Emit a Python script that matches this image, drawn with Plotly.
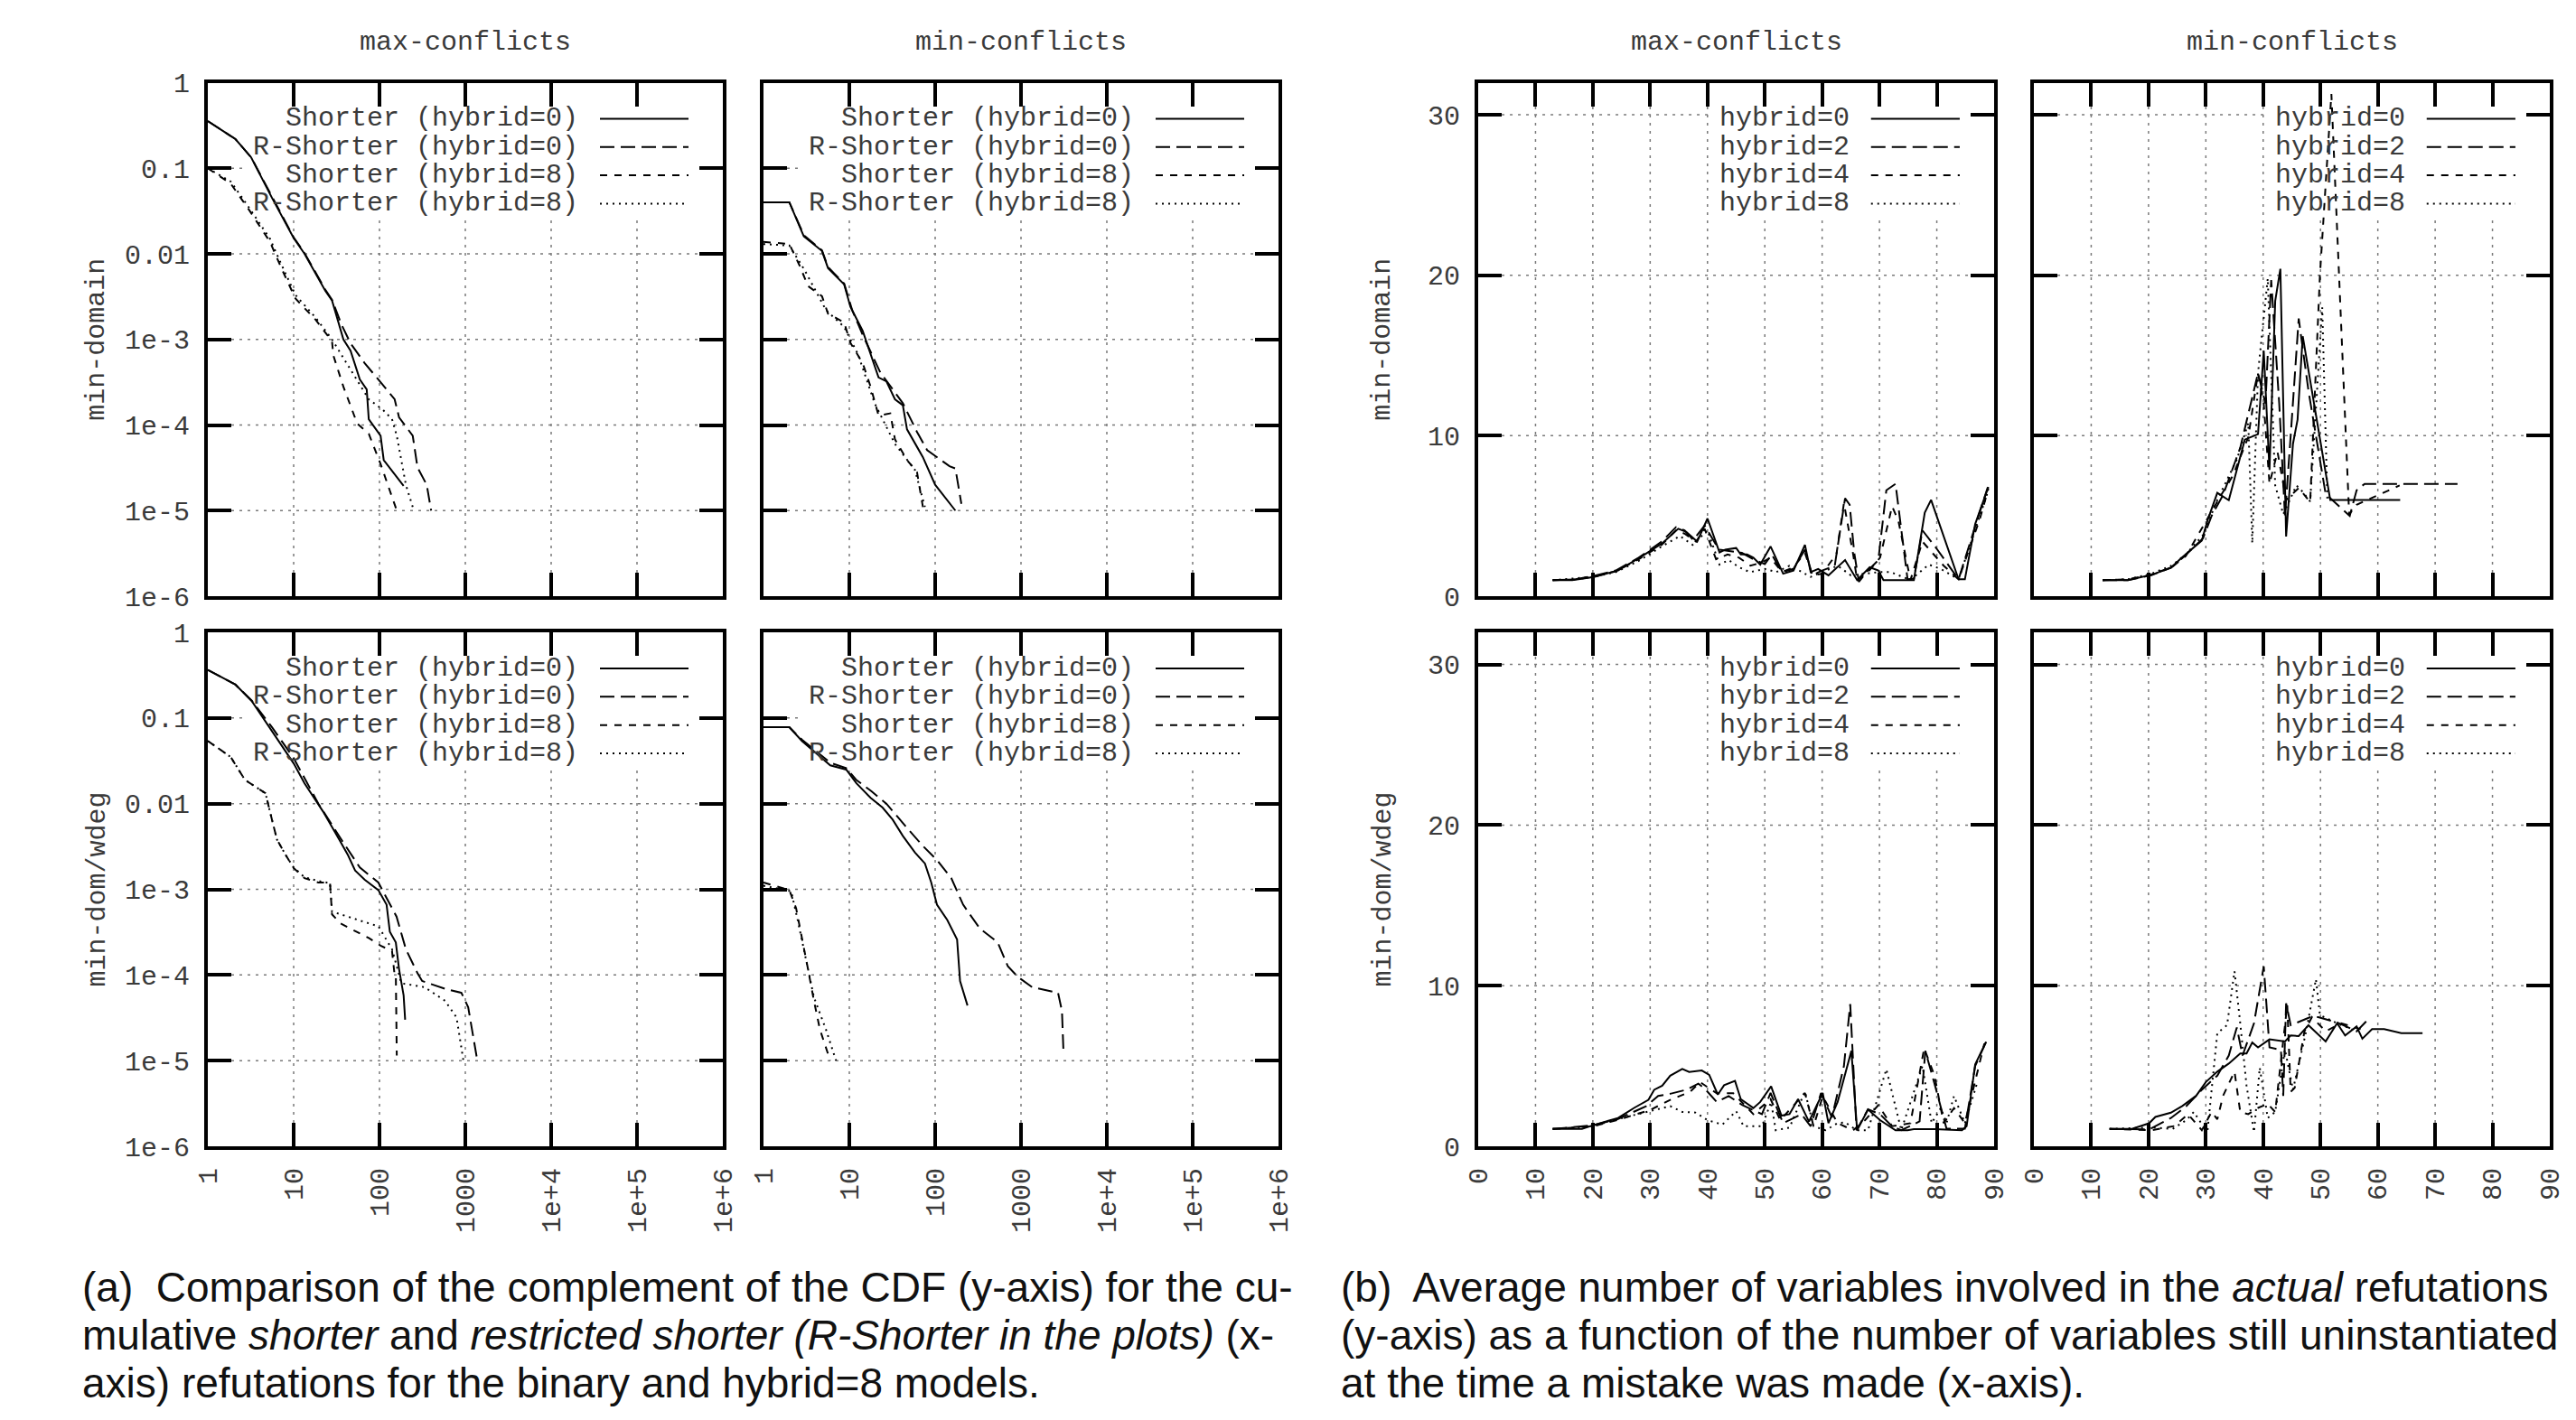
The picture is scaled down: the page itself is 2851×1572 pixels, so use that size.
import plotly.graph_objects as go

# ------------------------------------------------------------------ ticks / labels
LOG_TICKS = [1, 10, 100, 1000, 1e4, 1e5, 1e6]
LOG_TICK_TEXT = ["1", "10", "100", "1000", "1e+4", "1e+5", "1e+6"]
PROB_TICKS = [1e-6, 1e-5, 1e-4, 1e-3, 0.01, 0.1, 1]
PROB_TICK_TEXT = ["1e-6", "1e-5", "1e-4", "1e-3", "0.01", "0.1", "1"]
VAR_TICKS = [0, 10, 20, 30, 40, 50, 60, 70, 80, 90]
SIZE_TICKS = [0, 10, 20, 30]
COL_TITLES = ["max-conflicts", "min-conflicts"]
ROW_TITLES = ["min-domain", "min-dom/wdeg"]
CDF_LABELS = ["Shorter (hybrid=0)", "R-Shorter (hybrid=0)", "Shorter (hybrid=8)", "R-Shorter (hybrid=8)"]
HYB_LABELS = ["hybrid=0", "hybrid=2", "hybrid=4", "hybrid=8"]
CAPTION_A = ["(a)\u00a0 Comparison of the complement of the CDF (y-axis) for the cu-",
             "mulative <i>shorter</i> and <i>restricted shorter (R-Shorter in the plots)</i> (x-",
             "axis) refutations for the binary and hybrid=8 models."]
CAPTION_B = ["(b)\u00a0 Average number of variables involved in the <i>actual</i> refutations",
             "(y-axis) as a function of the number of variables still uninstantiated",
             "at the time a mistake was made (x-axis)."]

# ------------------------------------------------------------------ (a) CDF data
# min-domain / max-conflicts
MDMAX_S0_X = [1, 2.1, 3.2, 5.6, 10, 13.4, 23.4, 28, 38, 46, 59, 71, 75, 103, 112, 191]
MDMAX_S0_Y = [0.356, 0.219, 0.134, 0.045, 0.0153, 0.010, 0.0037, 0.00285, 0.001, 7.4e-4, 3.4e-4, 2.6e-4, 1.17e-4, 7.5e-5, 3.9e-5, 1.95e-5]
MDMAX_R0_X = [1, 2.1, 3.2, 5.6, 10, 13.4, 23.4, 28, 36, 46, 67, 97, 150, 169, 244, 277, 355, 400]
MDMAX_R0_Y = [0.356, 0.219, 0.134, 0.046, 0.0156, 0.0102, 0.0038, 0.0029, 0.0015, 9.0e-4, 5.3e-4, 3.4e-4, 2.0e-4, 1.23e-4, 7.5e-5, 3.2e-5, 2.0e-5, 1.0e-5]
MDMAX_S8_X = [1, 1.85, 3.0, 5.3, 7.2, 10.5, 18, 28, 29, 38, 55, 75, 103, 159]
MDMAX_S8_Y = [0.1, 0.066, 0.033, 0.0138, 0.0068, 0.003, 0.0017, 9.5e-4, 6.5e-4, 2.8e-4, 1.04e-4, 7.9e-5, 3.5e-5, 1.0e-5]
MDMAX_R8_X = [1, 1.85, 3.0, 5.3, 7.2, 10.5, 18, 28, 45, 75, 110, 140, 159, 203, 244]
MDMAX_R8_Y = [0.1, 0.07, 0.035, 0.015, 0.0075, 0.0033, 0.0018, 0.001, 4.6e-4, 2.0e-4, 1.5e-4, 1.17e-4, 7.5e-5, 2.0e-5, 1.1e-5]

# min-domain / min-conflicts
MDMIN_S0_X = [1, 2.0, 2.95, 4.8, 5.65, 8.7, 10.3, 14.3, 21.9, 27, 34, 42, 47, 72, 100, 172]
MDMIN_S0_Y = [0.04, 0.04, 0.016, 0.0108, 0.0068, 0.0044, 0.0024, 0.00126, 3.6e-4, 3.24e-4, 2.0e-4, 1.7e-4, 8.9e-5, 4.2e-5, 2.0e-5, 1.0e-5]
MDMIN_R0_X = [1, 2.0, 2.95, 4.8, 5.65, 8.7, 10.8, 14.3, 23, 42, 61.5, 80.5, 147, 172, 202]
MDMIN_R0_Y = [0.04, 0.04, 0.0165, 0.011, 0.0070, 0.0045, 0.0022, 0.00113, 4.1e-4, 1.8e-4, 8.3e-5, 5.1e-5, 3.3e-5, 3.1e-5, 1.2e-5]
MDMIN_S8_X = [1, 2.0, 2.65, 3.3, 4.8, 5.65, 8.7, 10.3, 14.3, 17.7, 21.9, 30, 34, 47, 61.5, 72]
MDMIN_S8_Y = [0.0138, 0.013, 0.0072, 0.0042, 0.0032, 0.002, 0.00158, 9.1e-4, 5.3e-4, 2.8e-4, 1.29e-4, 1.37e-4, 6.8e-5, 3.9e-5, 2.8e-5, 1.1e-5]
MDMIN_R8_X = [1, 2.0, 3.0, 5.35, 8.7, 12.7, 19.7, 34, 58, 76]
MDMIN_R8_Y = [0.013, 0.0125, 0.0065, 0.0022, 0.0014, 6.6e-4, 1.8e-4, 6.0e-5, 3.0e-5, 1.1e-5]

# min-dom/wdeg / max-conflicts
MWMAX_S0_X = [1, 2.1, 3.24, 5.6, 10, 13.4, 22, 34, 43, 52, 67, 97, 121, 132, 155, 169, 191, 199]
MWMAX_S0_Y = [0.365, 0.245, 0.158, 0.07, 0.0295, 0.0172, 0.0081, 0.0038, 0.0025, 0.00166, 0.0013, 9.8e-4, 6.6e-4, 3.2e-4, 2.4e-4, 1.17e-4, 5.8e-5, 3.0e-5]
MWMAX_R0_X = [1, 2.1, 3.24, 5.6, 10, 19.4, 36, 59, 97, 158, 203, 277, 314, 580, 900, 1080, 1380]
MWMAX_R0_Y = [0.365, 0.245, 0.16, 0.078, 0.034, 0.01, 0.0038, 0.0018, 0.0012, 4.8e-4, 2.0e-4, 1.05e-4, 8.5e-5, 6.9e-5, 6.2e-5, 4.2e-5, 1.0e-5]
MWMAX_S8_X = [1, 1.85, 2.7, 3.45, 4.7, 5.65, 6.4, 8.2, 10, 13.4, 19.4, 26.5, 28, 35, 75, 103, 140, 150, 155, 159]
MWMAX_S8_Y = [0.054, 0.035, 0.019, 0.0163, 0.0132, 0.0062, 0.0038, 0.00245, 0.00177, 0.00135, 0.0012, 0.0012, 5.1e-4, 4.0e-4, 2.7e-4, 2.2e-4, 1.9e-4, 1.0e-4, 1.0e-4, 1.15e-5]
MWMAX_R8_X = [1, 1.85, 2.7, 3.45, 4.7, 5.65, 6.4, 8.2, 10, 13.4, 19.4, 26.5, 28, 60, 97, 140, 180, 335, 580, 790, 950]
MWMAX_R8_Y = [0.054, 0.035, 0.019, 0.0163, 0.0132, 0.0062, 0.0038, 0.00245, 0.0018, 0.00138, 0.00125, 0.00118, 5.5e-4, 4.3e-4, 3.7e-4, 2.0e-4, 8.0e-5, 7.2e-5, 5.0e-5, 3.2e-5, 1.0e-5]

# min-dom/wdeg / min-conflicts
MWMIN_S0_X = [1, 2.0, 2.8, 4, 6, 9.2, 12.1, 17.7, 24.4, 32, 42, 58, 76, 90, 105, 138, 172, 180, 195, 238]
MWMIN_S0_Y = [0.078, 0.078, 0.054, 0.04, 0.028, 0.025, 0.0173, 0.0117, 0.009, 0.0065, 0.0042, 0.0027, 0.002, 0.0012, 6.6e-4, 4.4e-4, 2.8e-4, 2.6e-4, 8.5e-5, 4.4e-5]
MWMIN_R0_X = [1, 2.0, 2.8, 4, 6, 9.2, 12, 18, 27, 47, 72, 105, 154, 212, 330, 536, 703, 920, 1350, 2700, 3000, 3130]
MWMIN_R0_Y = [0.078, 0.078, 0.056, 0.042, 0.03, 0.026, 0.019, 0.014, 0.01, 0.0052, 0.0032, 0.0022, 0.00135, 6.6e-4, 3.5e-4, 2.4e-4, 1.26e-4, 9.5e-5, 7.2e-5, 6.2e-5, 3.8e-5, 1.2e-5]
MWMIN_S8_X = [1, 2, 2.4, 2.8, 3.3, 3.87, 4.55, 6.0]
MWMIN_S8_Y = [0.0012, 9.8e-4, 6.0e-4, 2.8e-4, 1.17e-4, 5.0e-5, 2.3e-5, 1.0e-5]
MWMIN_R8_X = [1, 2.1, 2.5, 3.1, 3.87, 5.35, 7.0]
MWMIN_R8_Y = [0.0011, 9.5e-4, 4.4e-4, 1.6e-4, 5.5e-5, 2.3e-5, 1.0e-5]

# ------------------------------------------------------------------ (b) refutation-size data
# min-domain / max-conflicts
RMDMAX_H0_X = [13, 16.4, 20.2, 24.4, 28.6, 32.1, 34.9, 36.3, 38.2, 40, 42.1, 43.1, 45, 45.8, 46.9, 48, 49.2, 51, 53.2, 55, 57, 58, 59.3, 61.1, 64, 66.1, 68.3, 69.8, 70.7, 76, 77.9, 79, 83.8, 84.9, 86.7, 89]
RMDMAX_H0_Y = [1, 1, 1.2, 1.6, 2.5, 3.3, 4.2, 4.0, 3.4, 4.84, 2.72, 2.9, 3.0, 2.6, 2.6, 2.4, 1.97, 3.1, 1.4, 1.6, 3.2, 1.5, 1.7, 1.3, 2.25, 1.0, 1.8, 1.6, 1.0, 1.0, 5.2, 6.0, 1.05, 1.05, 4.5, 6.8]
RMDMAX_H2_X = [13, 17, 20, 24, 28, 32, 34.5, 36, 37.5, 39.5, 42, 44, 46, 48, 50, 51.2, 53, 55, 57, 58.3, 60, 62.2, 64, 64.8, 65.6, 66.4, 68, 69.8, 71.2, 72.8, 74.1, 74.9, 76, 77.5, 80.1, 83.8, 87, 88.9]
RMDMAX_H2_Y = [1, 1.05, 1.25, 1.6, 2.4, 3.4, 4.3, 4.1, 3.5, 4.4, 2.9, 2.8, 2.7, 2.3, 2.0, 2.6, 1.5, 1.7, 2.9, 1.3, 1.6, 1.9, 6.1, 5.7, 2.7, 0.9, 1.6, 2.25, 6.6, 7.0, 3.4, 1.05, 1.1, 4.1, 2.9, 1.05, 4.7, 6.8]
RMDMAX_H4_X = [13, 17, 20, 24, 28, 32, 34.5, 36, 38, 39.5, 41.5, 43.5, 45.5, 47.5, 49.5, 51, 53, 55, 57, 58.3, 60, 62.5, 63.8, 65.4, 66.1, 68, 70.1, 72.2, 73.3, 75.4, 77.5, 81.2, 83.8, 87.5, 89]
RMDMAX_H4_Y = [1, 1.05, 1.2, 1.55, 2.3, 3.2, 4.1, 3.9, 3.4, 4.2, 2.3, 2.6, 2.4, 1.9, 2.1, 2.4, 1.5, 1.8, 2.7, 1.3, 1.4, 2.63, 5.8, 2.63, 1.0, 1.5, 2.4, 5.6, 4.7, 1.0, 3.4, 1.9, 1.05, 4.8, 6.7]
RMDMAX_H8_X = [13, 17, 20, 24, 28, 32, 35.2, 37.4, 40, 42.1, 43.7, 45.5, 47.4, 50, 52, 54.3, 56, 58, 60.6, 62.7, 65, 67, 69.8, 72, 75.4, 78.6, 80.7, 83.8, 87.5, 89]
RMDMAX_H8_Y = [1, 1.1, 1.2, 1.5, 2.2, 3.1, 3.75, 3.2, 4.1, 1.97, 2.25, 1.8, 1.5, 1.7, 1.5, 1.9, 1.6, 1.2, 1.6, 1.9, 1.3, 1.4, 1.5, 1.5, 1.0, 1.97, 1.7, 1.05, 5.0, 6.6]

# min-domain / min-conflicts
RMDMIN_H0_X = [12, 16.4, 20.5, 23.9, 25.6, 29.3, 30.3, 32, 34, 36.8, 39.1, 40.1, 41.1, 42.1, 43, 44, 45.2, 46, 46.9, 51.7, 63.9]
RMDMIN_H0_Y = [1, 1, 1.33, 1.76, 2.34, 3.47, 4.73, 6.44, 5.98, 9.76, 10.1, 15.3, 7.87, 18.4, 20.4, 3.72, 9.5, 11, 16.2, 6.0, 6.0]
RMDMIN_H2_X = [12, 16.4, 20.5, 24, 26, 29.5, 31, 33, 36, 39.1, 40.4, 41.4, 42.8, 43.8, 44.8, 46.2, 47.9, 50.9, 55.1, 56.3, 57.7, 73.9]
RMDMIN_H2_Y = [1, 1, 1.3, 1.8, 2.4, 3.6, 5.0, 6.3, 9.25, 13.9, 12.0, 19.7, 12.0, 5.0, 10.0, 17.3, 12.8, 6.36, 5.0, 6.6, 7.0, 7.0]
RMDMIN_H4_X = [12, 16.4, 20.5, 24, 26.5, 30, 32.5, 34.7, 37.4, 39.1, 40.1, 41.1, 42.5, 44, 46.2, 48.2, 49.9, 51.9, 53.3, 55, 56.3, 60, 63.8]
RMDMIN_H4_Y = [1, 1.05, 1.35, 1.8, 2.5, 4.7, 6.2, 7.5, 9.9, 13.9, 12.0, 7.0, 9.0, 6.0, 6.74, 5.86, 20.0, 31.3, 19.6, 5.1, 5.7, 6.3, 6.9]
RMDMIN_H8_X = [12, 16.4, 20.5, 24, 26.5, 29.5, 32, 35.4, 37.4, 38.1, 39.1, 40.8, 42.1, 43.5, 45.8, 46.9, 48.2, 50.3, 51.2]
RMDMIN_H8_Y = [1, 1.05, 1.4, 1.9, 2.6, 3.8, 6.0, 8.5, 10.8, 3.3, 13.9, 19.8, 6.9, 5.1, 6.9, 6.5, 5.9, 18.0, 6.0]

# min-dom/wdeg / max-conflicts
RMWMAX_H0_X = [13, 18.1, 20.2, 24.4, 27.2, 29.7, 30.7, 32.1, 33.5, 35.6, 36.8, 39, 40.3, 41.8, 42.9, 44.8, 45.8, 48, 49.2, 51.1, 52.9, 54.3, 55.8, 57.7, 60.1, 61.1, 62.7, 65.1, 66.1, 68, 70.1, 72.8, 74.9, 76, 79.6, 84.4, 85.2, 86.7, 88.6]
RMWMAX_H0_Y = [1.08, 1.08, 1.33, 1.76, 2.39, 2.89, 3.52, 3.77, 4.4, 4.82, 4.63, 4.72, 4.45, 3.22, 3.8, 4.07, 2.94, 2.38, 2.76, 3.73, 1.91, 2.0, 2.94, 1.54, 3.32, 1.44, 2.76, 5.94, 1.0, 2.29, 1.63, 1.0, 1.0, 1.07, 1.07, 1.0, 1.25, 5.1, 6.5]
RMWMAX_H2_X = [13, 20, 24.4, 29.3, 31.4, 33.5, 36.3, 38.4, 39.5, 41.6, 43.7, 46.1, 49.5, 51, 53.2, 56.4, 58, 59.8, 61.7, 63.8, 64.9, 66, 68, 70.1, 72.2, 73.8, 77, 78, 79.6, 81.7, 84.9, 86.7, 88.6]
RMWMAX_H2_Y = [1.08, 1.3, 1.7, 2.5, 3.14, 3.27, 3.52, 3.9, 3.6, 2.76, 3.13, 2.56, 2.0, 3.32, 1.44, 2.0, 1.25, 3.32, 1.8, 5.0, 8.85, 1.0, 2.3, 2.0, 1.25, 1.0, 1.55, 5.94, 3.9, 1.1, 1.1, 5.0, 6.5]
RMWMAX_H4_X = [13, 20, 24.4, 30, 33.5, 37, 38.7, 41.6, 44.5, 48, 51, 52.7, 57, 58.5, 60.1, 62.7, 65.4, 67.5, 69.8, 72.2, 75.4, 77.8, 79.6, 81.2, 83, 84.9, 88.3]
RMWMAX_H4_Y = [1.08, 1.25, 1.65, 2.26, 2.89, 3.4, 4.0, 3.3, 3.3, 2.0, 2.94, 1.63, 3.32, 1.25, 3.1, 1.44, 1.0, 1.63, 2.56, 1.25, 1.44, 6.1, 4.4, 1.44, 2.38, 1.44, 6.4]
RMWMAX_H8_X = [13, 20, 24.4, 29.3, 33.5, 35.6, 37.9, 40, 42.6, 45, 46.3, 49.5, 51.1, 51.9, 54.3, 57, 58.5, 60.6, 62.7, 64, 66, 68, 71.2, 73.8, 75.9, 77.5, 79.1, 80.7, 81.7, 83, 84.9, 87]
RMWMAX_H8_Y = [1.08, 1.25, 1.7, 2.14, 2.5, 2.14, 2.1, 1.63, 1.35, 2.19, 1.25, 1.25, 2.76, 1.0, 1.16, 3.41, 1.25, 1.0, 1.44, 1.5, 1.0, 1.0, 4.8, 1.0, 3.32, 5.0, 1.44, 2.38, 1.44, 3.13, 1.44, 3.9]

# min-dom/wdeg / min-conflicts
RMWMIN_H0_X = [13.2, 17.1, 20.1, 21.2, 23.9, 25.9, 28.3, 30, 32, 34, 36, 37.1, 38.1, 39.1, 41.1, 43.8, 44.8, 46.2, 47.9, 50.9, 52.9, 54.3, 56.3, 57.3, 59, 61.1, 64.1, 67.8]
RMWMIN_H0_Y = [1.08, 1.08, 1.43, 1.83, 2.09, 2.51, 3.14, 4.0, 4.65, 5.15, 5.78, 5.78, 6.46, 6.16, 6.66, 6.53, 6.9, 6.86, 7.54, 6.53, 7.66, 6.9, 7.46, 6.7, 7.29, 7.29, 7.04, 7.04]
RMWMIN_H2_X = [13.2, 20.1, 23.9, 26.6, 29.3, 32, 34, 35.4, 36.4, 38.4, 40.1, 41.1, 43.1, 43.5, 44, 44.8, 48.2, 49.6, 52.9, 56.3, 58.7]
RMWMIN_H2_Y = [1.08, 1.05, 1.76, 2.5, 3.52, 4.4, 5.65, 7.4, 5.65, 7.66, 11.2, 6.16, 6.0, 3.14, 8.9, 7.54, 8.04, 8.04, 7.71, 7.16, 8.04]
RMWMIN_H4_X = [13.2, 20.5, 24.5, 26.9, 29.3, 31, 32, 33, 35, 36, 37.4, 39.1, 40.8, 42.1, 44.2, 44.8, 45.5, 47.2, 48.5, 50.9, 53.6, 57]
RMWMIN_H4_Y = [1.08, 1.0, 1.26, 2.0, 1.0, 2.14, 1.68, 3.14, 4.65, 2.14, 2.0, 2.39, 2.64, 2.14, 8.8, 3.39, 3.64, 7.16, 8.04, 7.16, 7.66, 7.29]
RMWMIN_H8_X = [13.2, 20.5, 24.2, 26.6, 27.9, 29.3, 30.3, 32, 33.7, 35, 36, 37.1, 38.4, 39.4, 40.8, 42.1, 43.8, 45.2, 47.5, 49.2, 49.9, 52.9, 56.3]
RMWMIN_H8_Y = [1.08, 1.18, 1.08, 1.63, 2.14, 1.38, 1.0, 7.04, 7.54, 10.9, 7.66, 3.77, 0.88, 4.9, 1.76, 2.14, 6.03, 3.52, 7.16, 10.4, 8.17, 7.66, 7.16]

# ------------------------------------------------------------------ figure geometry
W, H = 2851, 1572
PANEL_X = [(230, 800), (845, 1415), (1636, 2207), (2251, 2822)]   # px
ROW_Y = [(91.5, 660), (700, 1269)]                                   # px from top
DASHES = ["solid", "16px,7px", "8px,8px", "2px,5px"]
MONO = "Liberation Mono, Courier New, monospace"
TXT = "#3a3a3a"
GRID = dict(color="#7a7a7a", width=1.5, dash="3px,6px")

# panels: (col, row, kind, series list)
PANELS = [
    (0, 0, "cdf", [(MDMAX_S0_X, MDMAX_S0_Y), (MDMAX_R0_X, MDMAX_R0_Y), (MDMAX_S8_X, MDMAX_S8_Y), (MDMAX_R8_X, MDMAX_R8_Y)]),
    (1, 0, "cdf", [(MDMIN_S0_X, MDMIN_S0_Y), (MDMIN_R0_X, MDMIN_R0_Y), (MDMIN_S8_X, MDMIN_S8_Y), (MDMIN_R8_X, MDMIN_R8_Y)]),
    (2, 0, "ref", [(RMDMAX_H0_X, RMDMAX_H0_Y), (RMDMAX_H2_X, RMDMAX_H2_Y), (RMDMAX_H4_X, RMDMAX_H4_Y), (RMDMAX_H8_X, RMDMAX_H8_Y)]),
    (3, 0, "ref", [(RMDMIN_H0_X, RMDMIN_H0_Y), (RMDMIN_H2_X, RMDMIN_H2_Y), (RMDMIN_H4_X, RMDMIN_H4_Y), (RMDMIN_H8_X, RMDMIN_H8_Y)]),
    (0, 1, "cdf", [(MWMAX_S0_X, MWMAX_S0_Y), (MWMAX_R0_X, MWMAX_R0_Y), (MWMAX_S8_X, MWMAX_S8_Y), (MWMAX_R8_X, MWMAX_R8_Y)]),
    (1, 1, "cdf", [(MWMIN_S0_X, MWMIN_S0_Y), (MWMIN_R0_X, MWMIN_R0_Y), (MWMIN_S8_X, MWMIN_S8_Y), (MWMIN_R8_X, MWMIN_R8_Y)]),
    (2, 1, "ref", [(RMWMAX_H0_X, RMWMAX_H0_Y), (RMWMAX_H2_X, RMWMAX_H2_Y), (RMWMAX_H4_X, RMWMAX_H4_Y), (RMWMAX_H8_X, RMWMAX_H8_Y)]),
    (3, 1, "ref", [(RMWMIN_H0_X, RMWMIN_H0_Y), (RMWMIN_H2_X, RMWMIN_H2_Y), (RMWMIN_H4_X, RMWMIN_H4_Y), (RMWMIN_H8_X, RMWMIN_H8_Y)]),
]

fig = go.Figure()
layout = dict(
    width=W, height=H, margin=dict(l=0, r=0, t=0, b=0, autoexpand=False),
    paper_bgcolor="white", plot_bgcolor="white", showlegend=False,
    template="none",
)
shapes, annotations = [], []

axis_common = dict(
    showline=True, linewidth=4, linecolor="black", mirror="ticks",
    ticks="inside", ticklen=26, tickwidth=4, tickcolor="black",
    showgrid=False, zeroline=False, automargin=False,
    tickfont=dict(family=MONO, size=30, color=TXT),
)

KEY_TOP = 150 / 568.5   # fraction of panel height taken by the key
TICK_F = 26 / 570       # tick length as a fraction of the panel size

for i, (col, row, kind, series) in enumerate(PANELS):
    n = i + 1
    s = "" if n == 1 else str(n)
    x0, x1 = PANEL_X[col]
    yt, yb = ROW_Y[row]
    xdom = [x0 / W, x1 / W]
    ydom = [1 - yb / H, 1 - yt / H]
    xa = dict(axis_common, domain=xdom, anchor="y" + s, ticklabelstandoff=8)
    ya = dict(axis_common, domain=ydom, anchor="x" + s, ticklabelstandoff=10)
    if kind == "cdf":
        xa.update(type="log", range=[0, 6], tickvals=LOG_TICKS, ticktext=LOG_TICK_TEXT)
        ya.update(type="log", range=[-6, 0], tickvals=PROB_TICKS, ticktext=PROB_TICK_TEXT)
        labels = CDF_LABELS
        xr, yr = (0, 6), (-6, 0)      # log10 positions
        to_x = lambda u: 10 ** u      # shapes take data values
        to_y = lambda u: 10 ** u
        gx = [1, 2, 3, 4, 5]
        gy = [-5, -4, -3, -2, -1]
        box_left = 0.07
    else:
        xa.update(range=[0, 90], tickvals=VAR_TICKS, ticktext=[str(v) for v in VAR_TICKS])
        ya.update(range=[0, 32], tickvals=SIZE_TICKS, ticktext=[str(v) for v in SIZE_TICKS])
        labels = HYB_LABELS
        xr, yr = (0, 90), (0, 32)
        to_x = lambda u: u
        to_y = lambda u: u
        gx = VAR_TICKS[1:-1]
        gy = SIZE_TICKS[1:]
        box_left = 0.455
    xa.update(tickangle=-90, showticklabels=(row == 1))
    ya.update(showticklabels=(col in (0, 2)))
    layout["xaxis" + s] = xa
    layout["yaxis" + s] = ya

    fx = lambda f: xr[0] + f * (xr[1] - xr[0])
    fy = lambda f: yr[0] + f * (yr[1] - yr[0])
    tox = lambda v: (v - xr[0]) / (xr[1] - xr[0])
    toy = lambda v: (v - yr[0]) / (yr[1] - yr[0])
    # grid (dotted), interrupted by the opaque key area like gnuplot does
    for v in gx:
        top = (1 - KEY_TOP) if tox(v) >= box_left else (1 - TICK_F)
        shapes.append(dict(type="line", xref="x" + s, yref="y" + s, x0=to_x(v), x1=to_x(v),
                           y0=to_y(fy(TICK_F)), y1=to_y(fy(top)), line=GRID, layer="below"))
    for v in gy:
        right = box_left if toy(v) >= 1 - KEY_TOP else (1 - TICK_F)
        shapes.append(dict(type="line", xref="x" + s, yref="y" + s, y0=to_y(v), y1=to_y(v),
                           x0=to_x(fx(TICK_F)), x1=to_x(fx(right)), line=GRID, layer="below"))

    for k, (xs, ys) in enumerate(series):
        fig.add_trace(go.Scatter(
            x=xs, y=ys, mode="lines", xaxis="x" + s, yaxis="y" + s,
            line=dict(color="black", width=2, dash=DASHES[k]), hoverinfo="skip",
        ))

    for k, lab in enumerate(labels):
        yk = 1 - (40 + 31.3 * k) / 568.5
        annotations.append(dict(text=lab, xref="x" + s + " domain", yref="y" + s + " domain",
                                x=412 / 570, y=yk, xanchor="right", yanchor="middle",
                                showarrow=False, font=dict(family=MONO, size=30, color=TXT)))
        shapes.append(dict(type="line", xref="x" + s + " domain", yref="y" + s + " domain",
                           x0=434 / 570, x1=532 / 570, y0=yk, y1=yk,
                           line=dict(color="black", width=2, dash=DASHES[k]), layer="above"))

    if row == 0:
        annotations.append(dict(text=COL_TITLES[col % 2], xref="paper", yref="paper",
                                x=(x0 + x1) / 2 / W, y=1 - 47 / H, xanchor="center", yanchor="middle",
                                showarrow=False, font=dict(family=MONO, size=30, color=TXT)))
    if col in (0, 2):
        tx = 107 if col == 0 else 1530
        annotations.append(dict(text=ROW_TITLES[row], xref="paper", yref="paper",
                                x=tx / W, y=1 - (yt + yb) / 2 / H, textangle=-90,
                                xanchor="center", yanchor="middle", showarrow=False,
                                font=dict(family=MONO, size=30, color=TXT)))

for j, (la, lb) in enumerate(zip(CAPTION_A, CAPTION_B)):
    yc = 1 - (1425 + 53 * j) / H
    for txt, xl in ((la, 89), (lb, 1482)):
        annotations.append(dict(text=txt, xref="paper", yref="paper", x=xl / W, y=yc,
                                xanchor="left", yanchor="middle", showarrow=False,
                                font=dict(family="Liberation Sans, Arial, sans-serif", size=46, color="#111")))

layout["shapes"] = shapes
layout["annotations"] = annotations
fig.update_layout(**layout)
fig.write_html("out.html", config={"displayModeBar": False},
               post_script="document.body.style.margin='0px';document.body.style.overflow='hidden';")
